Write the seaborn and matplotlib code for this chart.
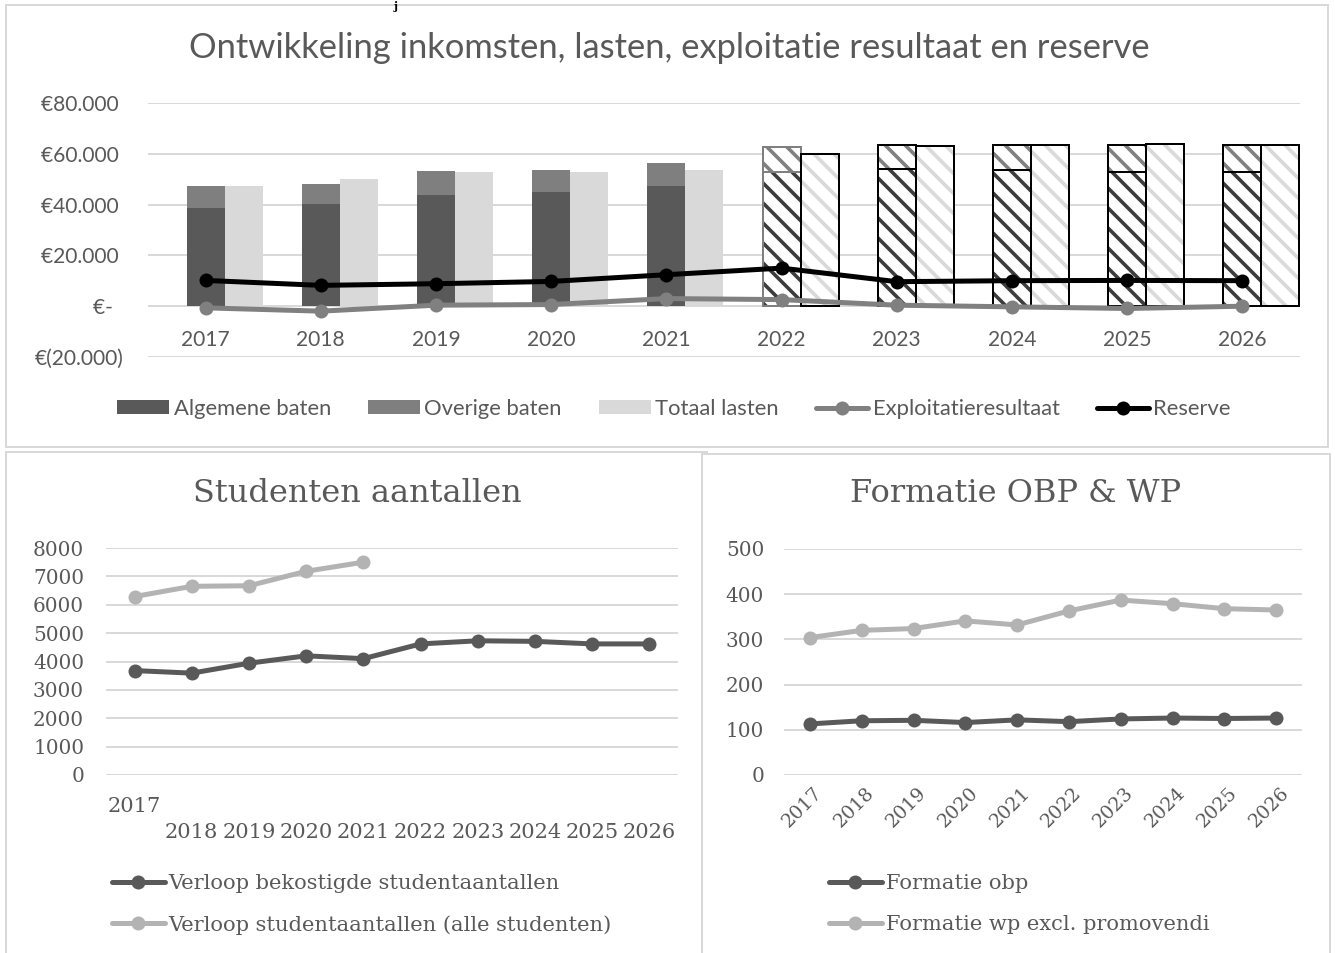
import numpy as np
import pandas as pd
import matplotlib
matplotlib.use("Agg")
import matplotlib.pyplot as plt
import matplotlib.transforms as mtransforms
import seaborn as sns
from matplotlib.patches import Rectangle, Patch
from matplotlib.lines import Line2D
from matplotlib.ticker import FuncFormatter, MultipleLocator

# ---------------------------------------------------------------- data
years = ["2017", "2018", "2019", "2020", "2021",
         "2022", "2023", "2024", "2025", "2026"]

algemene_baten = [38700, 40400, 43750, 44900, 47250, 53000, 54200, 53800, 53000, 53000]
overige_baten = [8450, 7800, 9550, 8800, 9250, 9500, 9450, 9750, 10300, 10650]
totaal_lasten = [47500, 49900, 52750, 53000, 53800, 59900, 62900, 63550, 63800, 63650]
exploitatieresultaat = [-650, -1950, 400, 650, 3000, 2600, 400, -250, -900, 0]
reserve = [10150, 8200, 8850, 9750, 12400, 15000, 9650, 10050, 10150, 10050]

bekostigde_studenten = [3680, 3590, 3940, 4200, 4100, 4620, 4730, 4710, 4620, 4620]
alle_studenten = [6290, 6650, 6670, 7180, 7500]

formatie_obp = [113, 120, 121, 116, 122, 118, 124, 126, 125, 126]
formatie_wp = [304, 320, 324, 341, 332, 363, 387, 379, 368, 365]

n_realisatie = 5  # first five years are realised, the rest is forecast

# ---------------------------------------------------------------- style
W, H = 1335, 953
DPI = 60


def s(px):
    """pixel size -> points at the figure dpi"""
    return px * 72 / DPI


sns.set_theme(style="white")
TXT = "#595959"
GRID = "#d9d9d9"
SANS = ["Lato", "DejaVu Sans"]
SERIF = ["DejaVu Serif"]
plt.rcParams.update({
    "font.family": SANS,
    "text.color": TXT,
    "xtick.color": TXT,
    "ytick.color": TXT,
    "hatch.linewidth": s(3.6),
    "axes.facecolor": "none",
})

fig = plt.figure(figsize=(W / DPI, H / DPI), dpi=DPI)
fig.patch.set_facecolor("white")


def fx(px):
    return px / W


def fy(py):
    return 1 - py / H


def panel(x0, y0, x1, y1):
    fig.patches.append(Rectangle((fx(x0), fy(y1)), fx(x1) - fx(x0), fy(y0) - fy(y1),
                                 transform=fig.transFigure, facecolor="white",
                                 edgecolor=GRID, linewidth=s(2), zorder=-5))


panel(6, 5, 1328, 447)
panel(6, 452, 707, 975)
panel(702, 454, 1330, 975)

# small glyph of a heading above the chart block
fig.text(fx(396), fy(0.5), "j", family=SERIF, fontweight="bold", fontsize=s(11),
         color="black", ha="center", va="top")

LW = s(5)
MS = s(14)


def clean(ax):
    for sp in ax.spines.values():
        sp.set_visible(False)
    ax.grid(False)
    ax.yaxis.grid(True, color=GRID, linewidth=s(2))
    ax.set_axisbelow(True)
    ax.set_xlabel("")
    ax.set_ylabel("")


# ================================================================ top chart
ax = fig.add_axes([fx(148), fy(357), fx(1300) - fx(148), fy(103) - fy(357)])
x = np.arange(len(years))
w = 0.33
alg = np.array(algemene_baten)
ov = np.array(overige_baten)
las = np.array(totaal_lasten)
r = slice(0, n_realisatie)
p = slice(n_realisatie, None)

# realised years: solid fills
ax.bar(x[r], alg[r], w, color="#595959", linewidth=0, zorder=2)
ax.bar(x[r], ov[r], w, bottom=alg[r], color="#7f7f7f", linewidth=0, zorder=2)
ax.bar(x[r] + w, las[r], w, color="#d9d9d9", linewidth=0, zorder=2)

# forecast years: striped fills with outlines
ax.bar(x[p], alg[p], w, facecolor="white", edgecolor="#3c3c3c", hatch="\\", linewidth=0, zorder=2)
ax.bar(x[p], ov[p], w, bottom=alg[p], facecolor="white", edgecolor="#808080", hatch="\\",
       linewidth=0, zorder=2)
ax.bar(x[p] + w, las[p], w, facecolor="white", edgecolor="#d9d9d9", hatch="\\", linewidth=0, zorder=2)
edge_baten = ["#7f7f7f"] + ["black"] * (len(years) - n_realisatie - 1)
ax.bar(x[p], alg[p], w, fill=False, edgecolor=edge_baten, linewidth=s(2), zorder=3)
ax.bar(x[p], ov[p], w, bottom=alg[p], fill=False, edgecolor=edge_baten, linewidth=s(2), zorder=3)
ax.bar(x[p] + w, las[p], w, fill=False, edgecolor="black", linewidth=s(2), zorder=3)

sns.lineplot(x=x, y=exploitatieresultaat, ax=ax, color="#808080", linewidth=LW,
             marker="o", markersize=MS, markeredgewidth=0, zorder=5)
sns.lineplot(x=x, y=reserve, ax=ax, color="black", linewidth=LW,
             marker="o", markersize=MS, markeredgewidth=0, zorder=6)

clean(ax)
ax.set_xlim(-0.5, len(years) - 0.5)
ax.set_ylim(-20000, 80000)
ax.yaxis.set_major_locator(MultipleLocator(20000))


def euro(v, pos):
    if abs(v) < 1e-6:
        return "€-  "
    txt = f"{abs(v):,.0f}".replace(",", ".")
    return f"€({txt})" if v < 0 else f"€{txt} "


ax.yaxis.set_major_formatter(FuncFormatter(euro))
ax.tick_params(axis="y", length=0, pad=s(24), labelsize=s(21))
ax.spines["bottom"].set_position(("data", 0))
ax.set_xticks(x)
ax.set_xticklabels(years)
ax.tick_params(axis="x", length=0, pad=s(24), labelsize=s(21))

fig.text(fx(669), fy(48), "Ontwikkeling inkomsten, lasten, exploitatie resultaat en reserve",
         ha="center", va="center", fontsize=s(34.5), color=TXT)

top_handles = [
    Patch(facecolor="#595959", edgecolor="none"),
    Patch(facecolor="#7f7f7f", edgecolor="none"),
    Patch(facecolor="#d9d9d9", edgecolor="none"),
    Line2D([], [], color="#808080", lw=LW, marker="o", markersize=MS, markeredgewidth=0),
    Line2D([], [], color="black", lw=LW, marker="o", markersize=MS, markeredgewidth=0),
]
top_labels = ["Algemene baten", "Overige baten", "Totaal lasten",
              "Exploitatieresultaat", "Reserve"]
fig.legend(top_handles, top_labels, loc="center", bbox_to_anchor=(fx(674), fy(409)),
           ncol=5, frameon=False, fontsize=s(22), handlelength=2.35, handleheight=0.6,
           handletextpad=0.2, columnspacing=1.7, borderpad=0, borderaxespad=0)

# ================================================================ students
ax2 = fig.add_axes([fx(106), fy(775), fx(678) - fx(106), fy(548) - fy(775)])
sns.lineplot(x=x, y=bekostigde_studenten, ax=ax2, color="#595959", linewidth=LW,
             marker="o", markersize=MS, markeredgewidth=0, zorder=4)
sns.lineplot(x=x[:len(alle_studenten)], y=alle_studenten, ax=ax2, color="#b3b3b3",
             linewidth=LW, marker="o", markersize=MS, markeredgewidth=0, zorder=4)
clean(ax2)
ax2.set_xlim(-0.5, len(years) - 0.5)
ax2.set_ylim(0, 8000)
ax2.yaxis.set_major_locator(MultipleLocator(1000))
ax2.set_xticks(x)
ax2.set_xticklabels([years[0]] + ["\n" + y for y in years[1:]], family=SERIF,
                    fontsize=s(21), linespacing=1.45)
ax2.tick_params(axis="x", length=0, pad=s(22))
ax2.tick_params(axis="y", length=0, pad=s(22), labelsize=s(20))
for lab in ax2.get_yticklabels():
    lab.set_family(SERIF)
fig.text(fx(357), fy(493), "Studenten aantallen", family=SERIF, ha="center",
         va="center", fontsize=s(32), color=TXT)

stud_handles = [
    Line2D([], [], color="#595959", lw=LW, marker="o", markersize=MS, markeredgewidth=0),
    Line2D([], [], color="#b3b3b3", lw=LW, marker="o", markersize=MS, markeredgewidth=0),
]
fig.legend(stud_handles, ["Verloop bekostigde studentaantallen",
                          "Verloop studentaantallen (alle studenten)"],
           loc="upper left", bbox_to_anchor=(fx(112), fy(874)), frameon=False,
           prop={"family": SERIF, "size": s(21)}, handlelength=2.5, handletextpad=0.2,
           labelspacing=1.05, borderpad=0, borderaxespad=0)

# ================================================================ staff
ax3 = fig.add_axes([fx(784), fy(775), fx(1302) - fx(784), fy(549) - fy(775)])
sns.lineplot(x=x, y=formatie_obp, ax=ax3, color="#595959", linewidth=LW,
             marker="o", markersize=MS, markeredgewidth=0, zorder=4)
sns.lineplot(x=x, y=formatie_wp, ax=ax3, color="#b3b3b3", linewidth=LW,
             marker="o", markersize=MS, markeredgewidth=0, zorder=4)
clean(ax3)
ax3.set_xlim(-0.5, len(years) - 0.5)
ax3.set_ylim(0, 500)
ax3.yaxis.set_major_locator(MultipleLocator(100))
ax3.set_xticks(x)
ax3.set_xticklabels(years, family=SERIF, fontsize=s(19), rotation=45,
                    ha="right", va="center", rotation_mode="anchor")
ax3.tick_params(axis="x", length=0, pad=s(15))
ax3.tick_params(axis="y", length=0, pad=s(20), labelsize=s(20))
for lab in ax3.get_yticklabels():
    lab.set_family(SERIF)
shift = mtransforms.ScaledTranslation(10 / DPI, 0, fig.dpi_scale_trans)
for lab in ax3.get_xticklabels():
    lab.set_transform(lab.get_transform() + shift)
fig.text(fx(1016), fy(494), "Formatie OBP & WP", family=SERIF, ha="center",
         va="center", fontsize=s(32), color=TXT)

staff_handles = [
    Line2D([], [], color="#595959", lw=LW, marker="o", markersize=MS, markeredgewidth=0),
    Line2D([], [], color="#b3b3b3", lw=LW, marker="o", markersize=MS, markeredgewidth=0),
]
fig.legend(staff_handles, ["Formatie obp", "Formatie wp excl. promovendi"],
           loc="upper left", bbox_to_anchor=(fx(829), fy(874)), frameon=False,
           prop={"family": SERIF, "size": s(21)}, handlelength=2.5, handletextpad=0.2,
           labelspacing=1.05, borderpad=0, borderaxespad=0)

fig.savefig("out.png", dpi=DPI, facecolor="white")
